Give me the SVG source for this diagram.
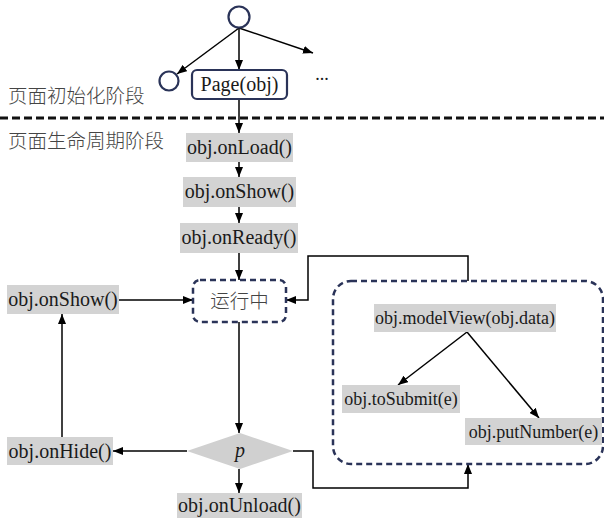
<svg xmlns="http://www.w3.org/2000/svg" width="604" height="520" viewBox="0 0 604 520">
<defs>
<marker id="ah" markerUnits="userSpaceOnUse" markerWidth="10" markerHeight="8" refX="10" refY="4" orient="auto">
<path d="M0,0 L10,4 L0,8 z" fill="#000"/>
</marker>
<style>
.gbox{fill:#d3d3d3;stroke:none}
.t{font-family:"Liberation Serif","Times New Roman",serif;font-size:20px;fill:#1a1a1a;text-anchor:middle}
.ts{font-family:"Liberation Serif","Times New Roman",serif;font-size:18px;fill:#1a1a1a;text-anchor:middle}
.cn{font-family:"Noto Sans CJK SC","Noto Sans",sans-serif;font-size:19.5px;fill:#444;font-weight:300}
.navy{fill:none;stroke:#2a3358;stroke-width:2.2}
.dash{fill:none;stroke:#2a3358;stroke-width:2.5;stroke-dasharray:6 4}
.c{fill:none;stroke:#000;stroke-width:1.5}
.ca{fill:none;stroke:#000;stroke-width:1.5;marker-end:url(#ah)}
</style>
</defs>
<rect width="604" height="520" fill="#fff"/>

<g id="stage-labels">
<text class="cn" x="8" y="103">页面初始化阶段</text>
<text class="cn" x="8" y="148">页面生命周期阶段</text>
<line x1="0" y1="118" x2="604" y2="118" stroke="#111" stroke-width="3" stroke-dasharray="8 4"/>
</g>

<g id="connectors">
<line class="ca" x1="239" y1="28" x2="177" y2="74"/>
<line class="ca" x1="239" y1="28" x2="239" y2="70"/>
<line class="ca" x1="239" y1="28" x2="313" y2="53"/>
<line class="ca" x1="239" y1="100" x2="239" y2="133"/>
<line class="ca" x1="239" y1="162" x2="239" y2="177"/>
<line class="ca" x1="239" y1="207" x2="239" y2="223"/>
<line class="ca" x1="239" y1="253" x2="239" y2="280"/>
<line class="ca" x1="119" y1="300" x2="193" y2="300"/>
<line class="ca" x1="239" y1="322" x2="239" y2="433"/>
<line class="ca" x1="187" y1="451" x2="113" y2="451"/>
<line class="ca" x1="62" y1="437" x2="62" y2="314"/>
<line class="ca" x1="239" y1="469" x2="239" y2="493"/>
<polyline class="ca" points="293,451 313,451 313,488 468,488 468,464"/>
<polyline class="ca" points="468,281 468,256 308,256 308,300 286,300"/>
<line class="ca" x1="467" y1="332" x2="398" y2="385"/>
<line class="ca" x1="467" y1="332" x2="539" y2="418"/>
</g>

<g id="start">
<circle class="navy" cx="239" cy="17" r="10.5"/>
</g>
<g id="end-left">
<circle class="navy" cx="169" cy="81" r="9.5"/>
</g>
<g id="page">
<rect class="navy" x="192" y="70" width="95" height="29" rx="5"/>
<text class="t" x="239.5" y="91">Page(obj)</text>
</g>
<g id="more">
<text class="ts" x="322" y="80" font-size="16">...</text>
</g>

<g id="onload">
<rect class="gbox" x="186" y="133" width="107" height="29"/>
<text class="t" x="239.5" y="154">obj.onLoad()</text>
</g>
<g id="onshow1">
<rect class="gbox" x="183" y="177" width="113" height="30"/>
<text class="t" x="239.5" y="198">obj.onShow()</text>
</g>
<g id="onready">
<rect class="gbox" x="180" y="223" width="118" height="30"/>
<text class="t" x="239" y="244">obj.onReady()</text>
</g>

<g id="running">
<rect class="dash" x="193" y="280" width="93" height="42" rx="7"/>
<text class="cn" x="239.5" y="308" text-anchor="middle" fill="#555">运行中</text>
</g>

<g id="onshow2">
<rect class="gbox" x="7" y="285" width="112" height="29"/>
<text class="t" x="63" y="306">obj.onShow()</text>
</g>

<g id="decision">
<polygon points="187,451 240,433 293,451 240,469" fill="#d0d0d0"/>
<text class="t" x="240" y="457" font-style="italic">p</text>
</g>

<g id="onhide">
<rect class="gbox" x="7" y="437" width="106" height="28"/>
<text class="t" x="60" y="458">obj.onHide()</text>
</g>

<g id="onunload">
<rect class="gbox" x="177" y="493" width="125" height="25"/>
<text class="t" x="239.5" y="512">obj.onUnload()</text>
</g>

<g id="event-region">
<rect class="dash" x="333" y="281" width="270" height="183" rx="18"/>
</g>
<g id="modelview">
<rect class="gbox" x="374" y="304" width="182" height="28"/>
<text class="ts" x="465" y="324">obj.modelView(obj.data)</text>
</g>
<g id="tosubmit">
<rect class="gbox" x="342" y="385" width="118" height="28"/>
<text class="ts" x="401" y="405">obj.toSubmit(e)</text>
</g>
<g id="putnumber">
<rect class="gbox" x="465" y="418" width="137" height="27"/>
<text class="ts" x="533.5" y="438">obj.putNumber(e)</text>
</g>
</svg>
